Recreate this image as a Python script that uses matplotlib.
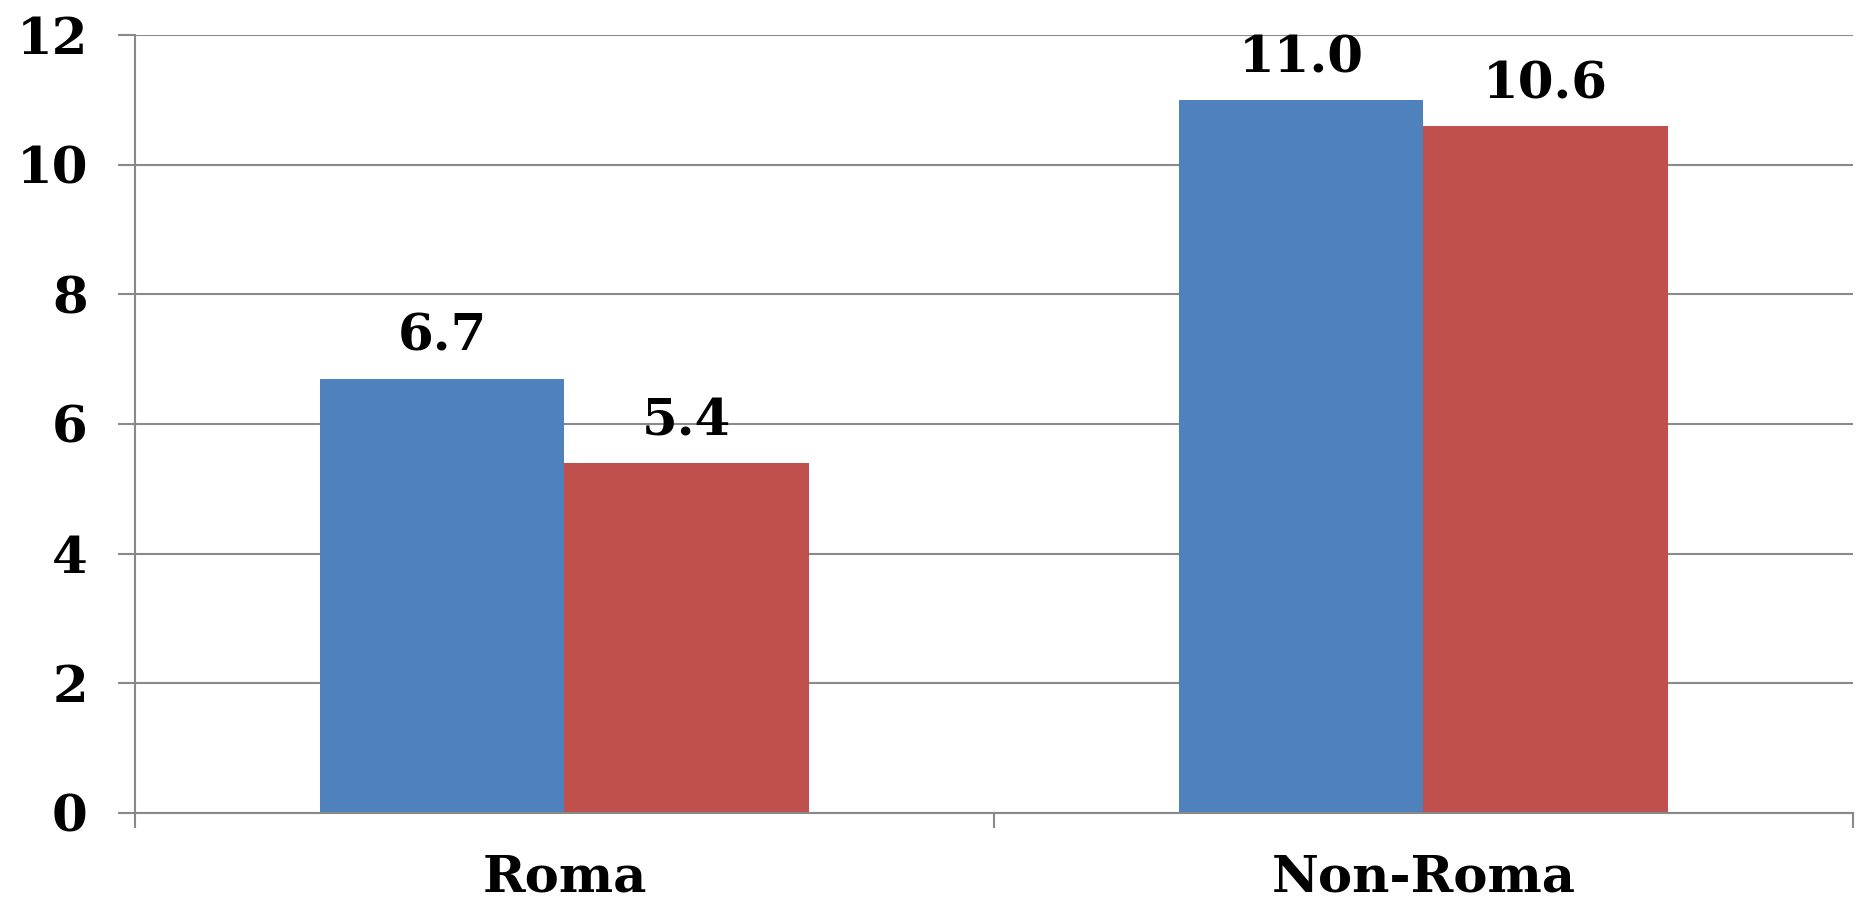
import numpy as np
import matplotlib
matplotlib.use('Agg')
from matplotlib import pyplot as plt

# bar data: two series per group
groups = ['Roma', 'Non-Roma']
series_a = [6.7, 11.0]
series_b = [5.4, 10.6]
yticks = [0, 2, 4, 6, 8, 10, 12]

blue = '#4F81BD'
red = '#C0504D'
grey = '#898989'
fs = 37

plt.rcParams['font.family'] = ['DejaVu Serif']
plt.rcParams['font.weight'] = 'bold'

fig = plt.figure(figsize=(18.63, 9.02), dpi=100)
ax = fig.add_axes([0.0725, 0.0987, 0.922, 0.8625])

x = np.arange(len(groups))
w = 0.285
bars_a = ax.bar(x - w/2, series_a, w, color=blue, zorder=3)
bars_b = ax.bar(x + w/2, series_b, w, color=red, zorder=3)

#value labels over each bar
for bars, vals in ((bars_a, series_a), (bars_b, series_b)):
    for b, v in zip(bars, vals):
        ax.annotate('%.1f' % v, (b.get_x() + b.get_width()/2, v),
                    xytext=(0, 12), textcoords='offset points',
                    ha='center', va='bottom', fontsize=fs, fontweight='bold')

ax.set_xlim(-0.5, 1.5)
ax.set_ylim(0, 12)
ax.set_yticks(yticks)
ax.set_yticklabels([str(t) for t in yticks])
ax.set_xticks(x)
ax.set_xticklabels(groups)
ax.set_xticks([-0.5, 0.5, 1.5], minor=True)

ax.yaxis.grid(True, color=grey, linewidth=1.5, zorder=0)
ax.tick_params(axis='y', length=12, width=1.5, color=grey, pad=22, labelsize=fs)
ax.tick_params(axis='x', which='major', length=0, pad=29, labelsize=fs)
ax.tick_params(axis='x', which='minor', length=11, width=1.5, color=grey)

for s in ('top', 'right'):
    ax.spines[s].set_visible(False)
for s in ('left', 'bottom'):
    ax.spines[s].set_color(grey)
    ax.spines[s].set_linewidth(1.5)
    ax.spines[s].set_zorder(4)

fig.savefig('out.png', dpi=100)
